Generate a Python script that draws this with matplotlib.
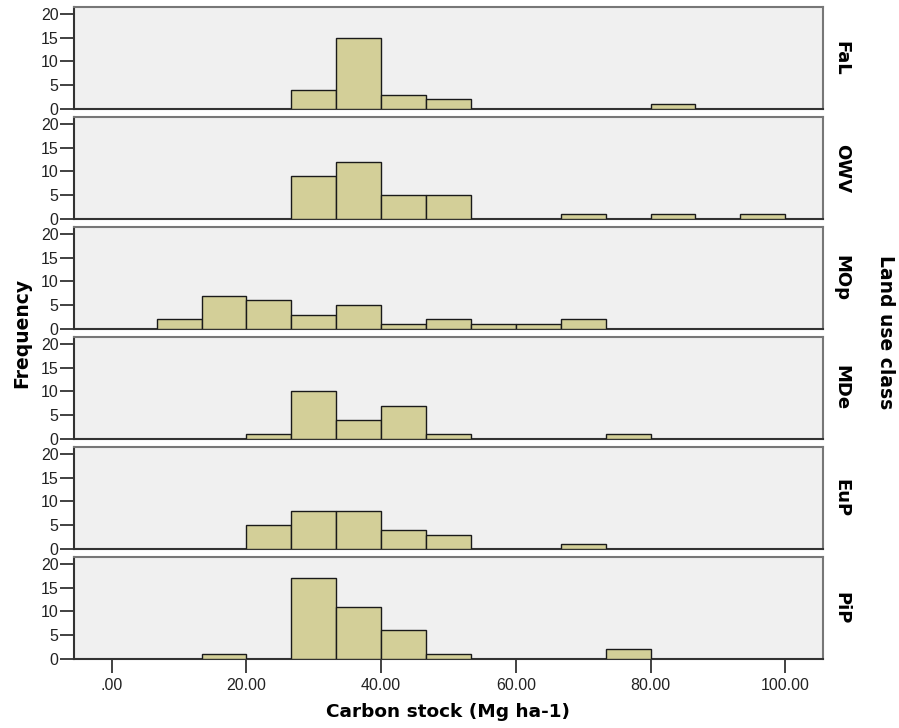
import matplotlib
matplotlib.use("Agg")
import matplotlib.pyplot as plt
import numpy as np

# --- Dados (leitura do gráfico) ---
classes = ["FaL", "OWV", "MOp", "MDe", "EuP", "PiP"]
# bordas esquerdas das classes do histograma (largura 20/3)
bin_left = [6.67, 13.33, 20.00, 26.67, 33.33, 40.00, 46.67, 53.33,
            60.00, 66.67, 73.33, 80.00, 86.67, 93.33]
bin_width = 20 / 3

fal = [0, 0, 0, 4, 15, 3, 2, 0, 0, 0, 0, 1, 0, 0]
owv = [0, 0, 0, 9, 12, 5, 5, 0, 0, 1, 0, 1, 0, 1]
mop = [2, 7, 6, 3, 5, 1, 2, 1, 1, 2, 0, 0, 0, 0]
mde = [0, 0, 1, 10, 4, 7, 1, 0, 0, 0, 1, 0, 0, 0]
eup = [0, 0, 5, 8, 8, 4, 3, 0, 0, 1, 0, 0, 0, 0]
pip = [0, 1, 0, 17, 11, 6, 1, 0, 0, 0, 2, 0, 0, 0]
contagens = [fal, owv, mop, mde, eup, pip]

x_ticks = [0, 20, 40, 60, 80, 100]
x_ticklabels = [".00", "20.00", "40.00", "60.00", "80.00", "100.00"]
y_ticks = [0, 5, 10, 15, 20]

# --- Estilo ---
cor_barra = "#d3cf98"
cor_fundo = "#f0f0f0"
W, H = 899, 728
fig = plt.figure(figsize=(W / 100, H / 100), dpi=100)

esq, dir_ = 74, 823
topo0, alt, passo = 7, 102, 110

axes = []
for i, (nome, cont) in enumerate(zip(classes, contagens)):
    topo = topo0 + i * passo
    ax = fig.add_axes([esq / W, 1 - (topo + alt) / H, (dir_ - esq) / W, alt / H])
    ax.set_facecolor(cor_fundo)
    cont_arr = np.array(cont)
    mask = cont_arr > 0
    ax.bar(np.array(bin_left)[mask], cont_arr[mask], width=bin_width, align="edge",
           color=cor_barra, edgecolor="#1a1a1a", linewidth=1.0, zorder=3)
    ax.set_xlim(-5.6, 105.6)
    ax.set_ylim(0, 21.4)
    ax.set_yticks(y_ticks)
    ax.set_yticklabels([str(v) for v in y_ticks], family="Liberation Sans",
                       fontsize=11.5, color="#222222")
    ax.tick_params(axis="y", direction="out", length=10, width=1.3, pad=1,
                   color="#333333")
    for lado in ["top", "right"]:
        ax.spines[lado].set_color("#777777")
        ax.spines[lado].set_linewidth(1.5)
    for lado in ["left", "bottom"]:
        ax.spines[lado].set_color("#333333")
        ax.spines[lado].set_linewidth(1.5)
    ax.text(1.025, 0.5, nome, transform=ax.transAxes, rotation=-90,
            ha="center", va="center", fontsize=13, fontweight="bold",
            family="DejaVu Sans")
    if i < len(classes) - 1:
        ax.set_xticks([])
    else:
        ax.set_xticks(x_ticks)
        ax.set_xticklabels(x_ticklabels, family="Liberation Sans", fontsize=11.5,
                           color="#222222")
        ax.tick_params(axis="x", direction="out", length=10, width=1.3, pad=4,
                       color="#333333")
    axes.append(ax)

fig.text(22 / W, 1 - 333 / H, "Frequency", rotation=90, ha="center", va="center",
         fontsize=13.5, fontweight="bold", family="DejaVu Sans")
fig.text(448 / W, 1 - 712 / H, "Carbon stock (Mg ha-1)", ha="center", va="center",
         fontsize=13.3, fontweight="bold", family="DejaVu Sans")
fig.text(885 / W, 1 - 332 / H, "Land use class", rotation=-90, ha="center",
         va="center", fontsize=13.5, fontweight="bold", family="DejaVu Sans")

fig.savefig("out.png", dpi=100)
